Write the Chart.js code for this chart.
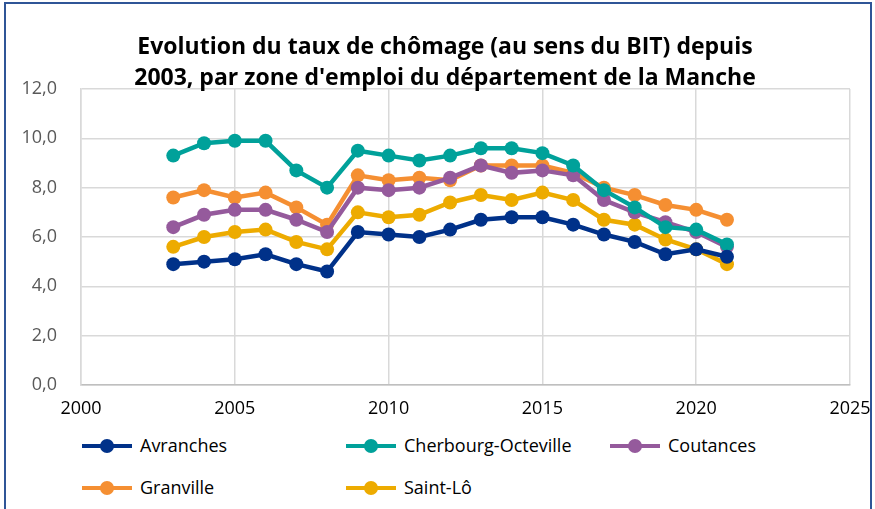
<!DOCTYPE html>
<html>
<head>
<meta charset="utf-8">
<script src="https://cdn.jsdelivr.net/npm/chart.js@4/dist/chart.umd.min.js"></script>
<style>
  body { margin: 0; background: #fff; font-family: "Open Sans", Lato, sans-serif; }
  #frame { position: absolute; left: 4px; top: 2px; width: 868px; height: 520px; border: 2px solid #2F5597; box-sizing: border-box; }
  #title { position: absolute; left: 0; top: 30px; width: 890px; text-align: center; font-weight: bold; font-size: 23px; line-height: 31px; color: #000; }
  #wrap { position: absolute; left: 0; top: 0; width: 875px; height: 430px; }
  #legend { position: absolute; left: 0; top: 430px; width: 875px; height: 79px; }
  .item { position: absolute; height: 24px; font-size: 18px; line-height: 24px; color: #000; white-space: nowrap; }
  .sw { position: absolute; left: 0; top: 11px; width: 50px; height: 4px; }
  .dot { position: absolute; left: 18px; top: 6px; width: 14px; height: 14px; border-radius: 7px; }
  .lbl { position: absolute; left: 58px; top: 0; }
</style>
</head>
<body>
<div id="frame"></div>
<div id="wrap"><canvas id="myChart" width="875" height="430"></canvas></div>
<div id="title">Evolution du taux de chômage (au sens du BIT) depuis<br>2003, par zone d'emploi du département de la Manche</div>
<div id="legend"></div>
<script>
var years = [2003, 2004, 2005, 2006, 2007, 2008, 2009, 2010, 2011, 2012, 2013, 2014, 2015, 2016, 2017, 2018, 2019, 2020, 2021];
var seriesNames = ['Avranches', 'Cherbourg-Octeville', 'Coutances', 'Granville', 'Saint-Lô'];
var seriesColors = ['#003189', '#00A19A', '#955A9C', '#F58F32', '#EDAB00'];
var avranches = [4.9, 5.0, 5.1, 5.3, 4.9, 4.6, 6.2, 6.1, 6.0, 6.3, 6.7, 6.8, 6.8, 6.5, 6.1, 5.8, 5.3, 5.5, 5.2];
var cherbourg = [9.3, 9.8, 9.9, 9.9, 8.7, 8.0, 9.5, 9.3, 9.1, 9.3, 9.6, 9.6, 9.4, 8.9, 7.9, 7.2, 6.4, 6.3, 5.7];
var coutances = [6.4, 6.9, 7.1, 7.1, 6.7, 6.2, 8.0, 7.9, 8.0, 8.4, 8.9, 8.6, 8.7, 8.5, 7.5, 7.0, 6.6, 6.2, 5.6];
var granville = [7.6, 7.9, 7.6, 7.8, 7.2, 6.5, 8.5, 8.3, 8.4, 8.3, 8.9, 8.9, 8.9, 8.6, 8.0, 7.7, 7.3, 7.1, 6.7];
var saintLo = [5.6, 6.0, 6.2, 6.3, 5.8, 5.5, 7.0, 6.8, 6.9, 7.4, 7.7, 7.5, 7.8, 7.5, 6.7, 6.5, 5.9, 5.5, 4.9];
var xTicks = [2000, 2005, 2010, 2015, 2020, 2025];
var yTicks = [0, 2, 4, 6, 8, 10, 12];

var allValues = [avranches, cherbourg, coutances, granville, saintLo];
// legend slots: [left, top]
var legendPos = [[82, 3], [346, 3], [610, 3], [82, 45], [346, 45]];

function toPoints(vals) {
  var pts = [];
  for (var i = 0; i < years.length; i++) {
    pts.push({ x: years[i], y: vals[i] });
  }
  return pts;
}

var datasets = [];
for (var s = 0; s < seriesNames.length; s++) {
  datasets.push({
    label: seriesNames[s],
    data: toPoints(allValues[s]),
    borderColor: seriesColors[s],
    backgroundColor: seriesColors[s],
    borderWidth: 4.5,
    pointRadius: 7,
    pointBorderWidth: 0,
    pointHoverRadius: 7,
    tension: 0
  });
}

var legendEl = document.getElementById('legend');
for (var s = 0; s < seriesNames.length; s++) {
  var it = document.createElement('div');
  it.className = 'item';
  it.style.left = legendPos[s][0] + 'px';
  it.style.top = legendPos[s][1] + 'px';
  it.innerHTML = '<div class="sw" style="background:' + seriesColors[s] + '"></div>' +
    '<div class="dot" style="background:' + seriesColors[s] + '"></div>' +
    '<span class="lbl">' + seriesNames[s] + '</span>';
  legendEl.appendChild(it);
}

var ctx = document.getElementById('myChart').getContext('2d');
new Chart(ctx, {
  type: 'line',
  data: { datasets: datasets },
  options: {
    responsive: false,
    animation: false,
    events: [],
    layout: { padding: { top: 89, right: 25, left: 0, bottom: 0 } },
    plugins: { legend: { display: false }, title: { display: false }, tooltip: { enabled: false } },
    scales: {
      x: {
        type: 'linear',
        min: xTicks[0],
        max: xTicks[xTicks.length - 1],
        afterFit: function(scale) {
          scale.height = 45;
          scale.paddingLeft = 0;
          scale.paddingRight = 0;
        },
        afterBuildTicks: function(scale) { scale.ticks = xTicks.map(function(v) { return { value: v }; }); },
        ticks: {
          padding: 13,
          color: '#000',
          font: { family: 'Open Sans', size: 18 },
          callback: function(v) { return String(v); }
        },
        grid: { color: '#D9D9D9', lineWidth: 1.5, drawTicks: false },
        border: { color: '#BFBFBF', width: 1.5 }
      },
      y: {
        min: yTicks[0],
        max: yTicks[yTicks.length - 1],
        afterFit: function(scale) { scale.width = 81; },
        afterBuildTicks: function(scale) { scale.ticks = yTicks.map(function(v) { return { value: v }; }); },
        ticks: {
          padding: 24,
          color: '#595959',
          font: { family: 'Open Sans', size: 18 },
          callback: function(v) { return v.toFixed(1).replace('.', ','); }
        },
        grid: { color: '#D9D9D9', lineWidth: 1.5, drawTicks: false },
        border: { color: '#D9D9D9', width: 1.5 }
      }
    }
  }
});
</script>
</body>
</html>
